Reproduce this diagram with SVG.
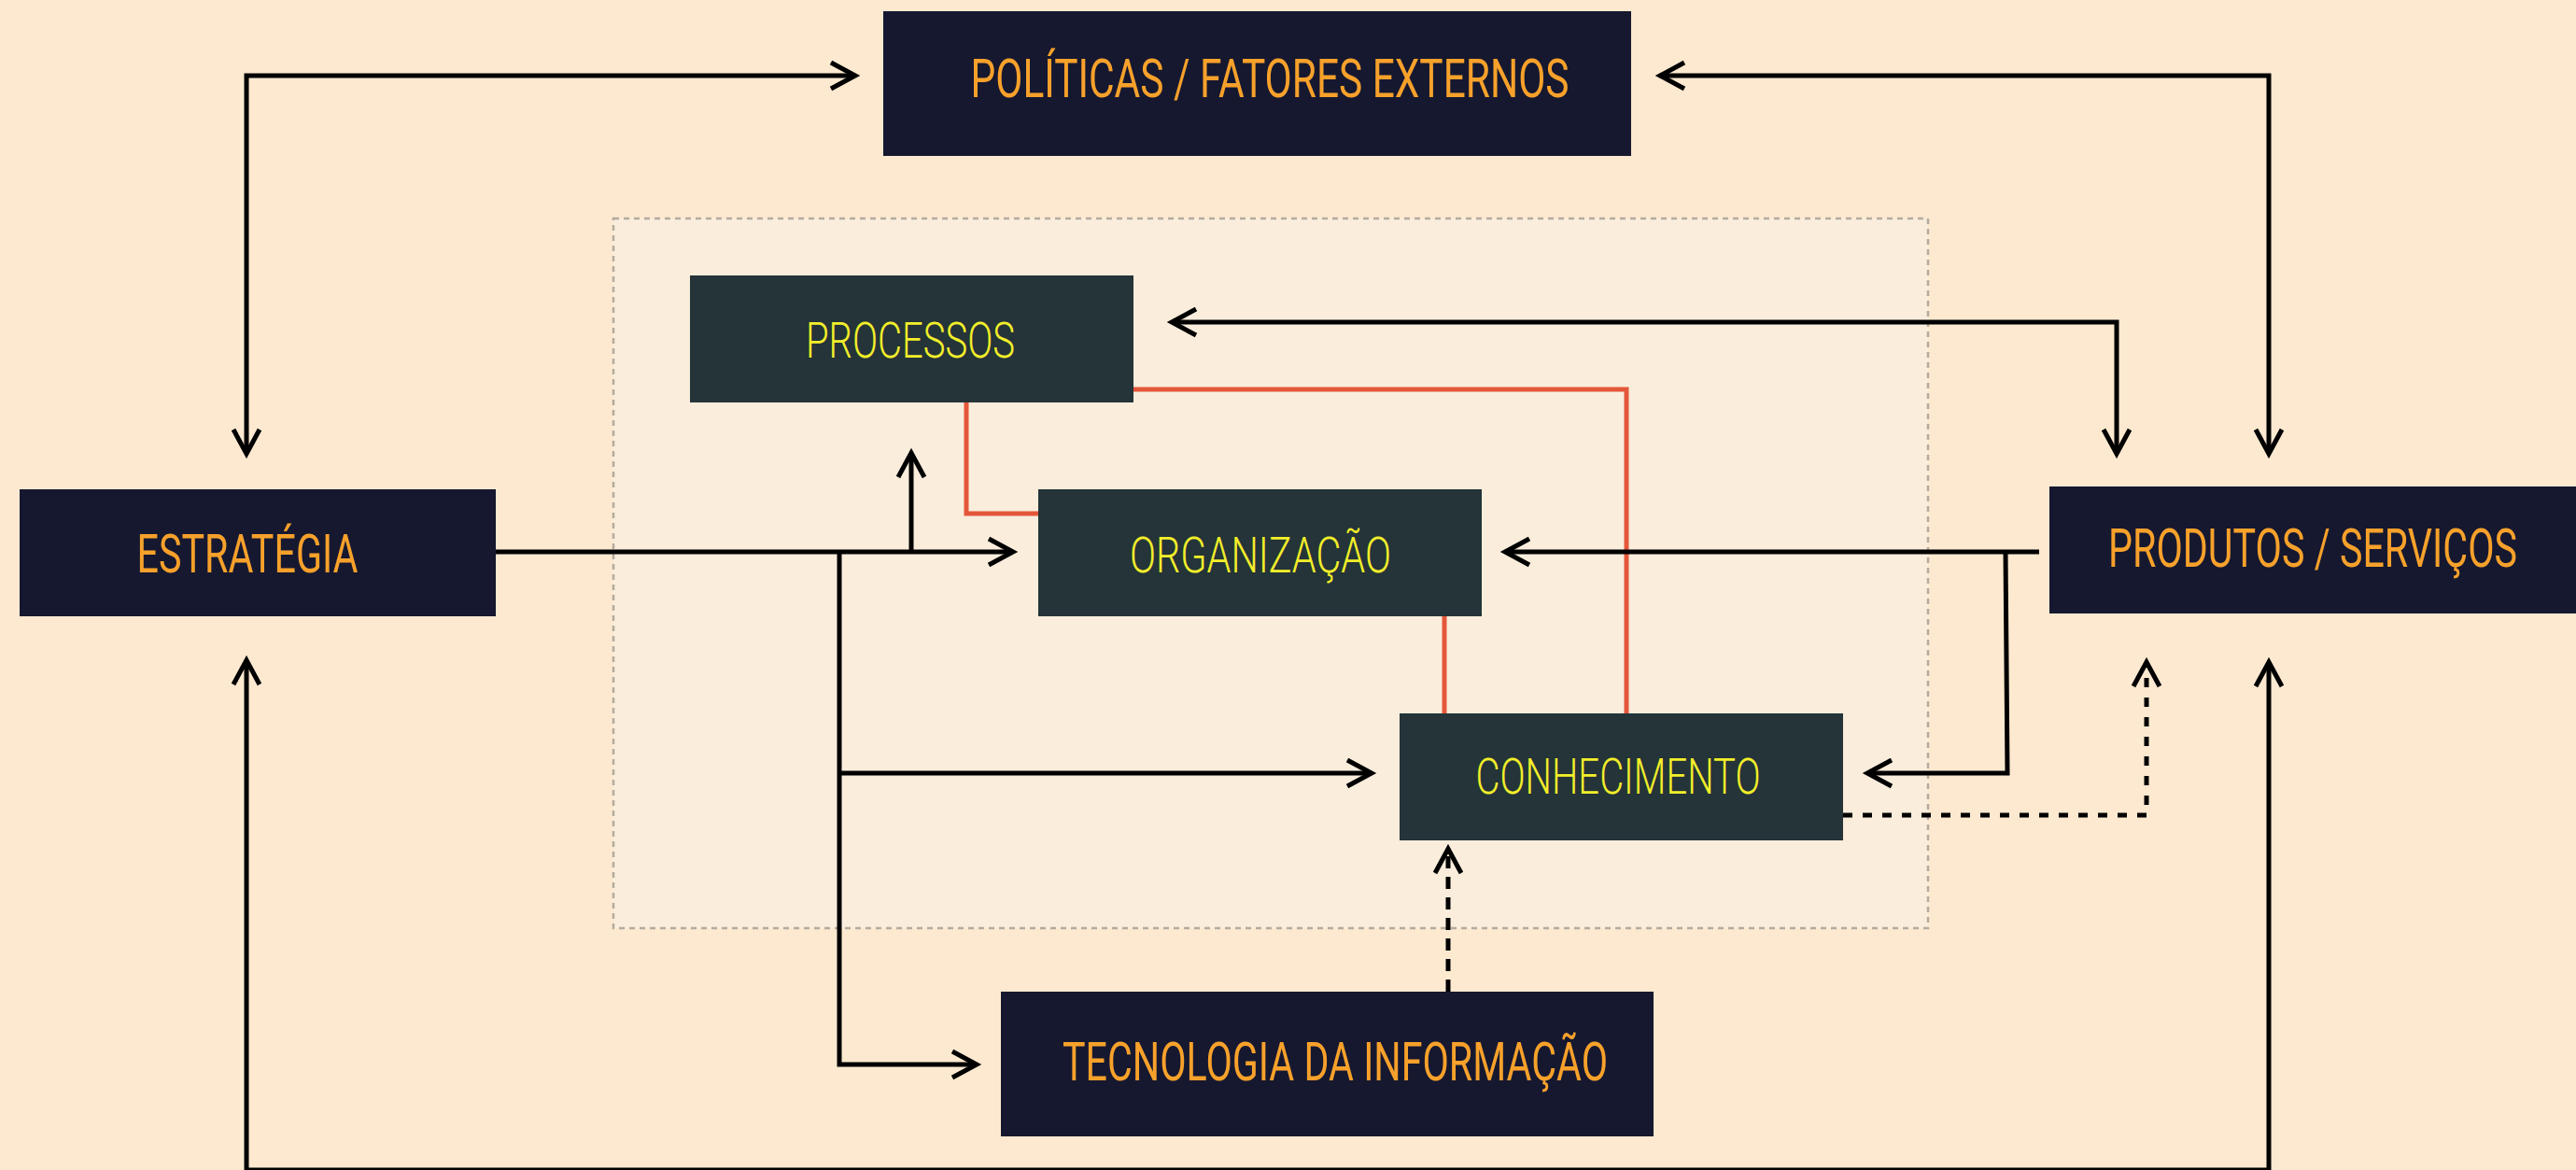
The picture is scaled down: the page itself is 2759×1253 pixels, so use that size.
<svg xmlns="http://www.w3.org/2000/svg" width="2759" height="1253" viewBox="0 0 2759 1253">
<defs>
<style>
.bg{fill:#FDE9D0}
.ctr{fill:#FAEDDC;stroke:#B3AB9F;stroke-width:2.5;stroke-dasharray:6 5}
.navy{fill:#161830}
.teal{fill:#243438}
.ot{fill:#F7A12B;font-family:Roboto,"Liberation Sans",sans-serif;font-size:57px;font-weight:400}
.yt{fill:#F2EE2A;font-family:Roboto,"Liberation Sans",sans-serif;font-size:53px;font-weight:300}
.ln{fill:none;stroke:#000;stroke-width:5}
.rd{fill:none;stroke:#E4573A;stroke-width:5}
.dot{stroke-dasharray:10 11}
.dash{stroke-dasharray:13 9}
</style>
<marker id="ah" markerUnits="userSpaceOnUse" markerWidth="40" markerHeight="40" viewBox="-32 -20 40 40" refX="0" refY="0" orient="auto-start-reverse">
<path d="M -26 -14 L 0 0 L -26 14" fill="none" stroke="#000" stroke-width="5"/>
</marker>
</defs>
<rect class="bg" x="0" y="0" width="2759" height="1253"/>
<rect id="container" class="ctr" x="657" y="234" width="1408" height="760"/>

<g id="connectors">
<path class="rd" d="M1035,431 V550 H1112"/>
<path class="rd" d="M1214,417 H1742 V764"/>
<path class="rd" d="M1547,660 V764"/>
<path class="ln" d="M264,486 V81 H916" marker-start="url(#ah)" marker-end="url(#ah)"/>
<path class="ln" d="M1778,81 H2430 V486" marker-start="url(#ah)" marker-end="url(#ah)"/>
<path class="ln" d="M1255,345 H2267 V486" marker-start="url(#ah)" marker-end="url(#ah)"/>
<path class="ln" d="M531,591 H1085" marker-end="url(#ah)"/>
<path class="ln" d="M976,591 V485" marker-end="url(#ah)"/>
<path class="ln" d="M899,591 V1140 H1046" marker-end="url(#ah)"/>
<path class="ln" d="M899,828 H1469" marker-end="url(#ah)"/>
<path class="ln" d="M2184,591 H1612" marker-end="url(#ah)"/>
<path class="ln" d="M2148,591 L2150,828 H2000" marker-end="url(#ah)"/>
<path class="ln dot" d="M1974,873 H2299 V709" marker-end="url(#ah)"/>
<path class="ln dash" d="M1551,1062 V909" marker-end="url(#ah)"/>
<path class="ln" d="M264,707 V1253 H2430 V709" marker-start="url(#ah)" marker-end="url(#ah)"/>
</g>

<g id="politicas">
<rect class="navy" x="946" y="12" width="801" height="155"/>
<text class="ot" x="1360" y="104" text-anchor="middle" textLength="641" lengthAdjust="spacingAndGlyphs">POLÍTICAS / FATORES EXTERNOS</text>
</g>
<g id="estrategia">
<rect class="navy" x="21" y="524" width="510" height="136"/>
<text class="ot" x="265" y="613" text-anchor="middle" textLength="237" lengthAdjust="spacingAndGlyphs">ESTRATÉGIA</text>
</g>
<g id="produtos">
<rect class="navy" x="2195" y="521" width="564" height="136"/>
<text class="ot" transform="translate(2477,607) scale(0.75,1)" x="0" y="0" text-anchor="middle" textLength="584" lengthAdjust="spacingAndGlyphs">PRODUTOS / SERVIÇOS</text>
</g>
<g id="tecnologia">
<rect class="navy" x="1072" y="1062" width="699" height="155"/>
<text class="ot" x="1430" y="1157" text-anchor="middle" textLength="584" lengthAdjust="spacingAndGlyphs">TECNOLOGIA DA INFORMAÇÃO</text>
</g>
<g id="processos">
<rect class="teal" x="739" y="295" width="475" height="136"/>
<text class="yt" x="975" y="383" text-anchor="middle" textLength="224" lengthAdjust="spacingAndGlyphs">PROCESSOS</text>
</g>
<g id="organizacao">
<rect class="teal" x="1112" y="524" width="475" height="136"/>
<text class="yt" x="1350" y="613" text-anchor="middle" textLength="280" lengthAdjust="spacingAndGlyphs">ORGANIZAÇÃO</text>
</g>
<g id="conhecimento">
<rect class="teal" x="1499" y="764" width="475" height="136"/>
<text class="yt" x="1733" y="850" text-anchor="middle" textLength="305" lengthAdjust="spacingAndGlyphs">CONHECIMENTO</text>
</g>
</svg>
